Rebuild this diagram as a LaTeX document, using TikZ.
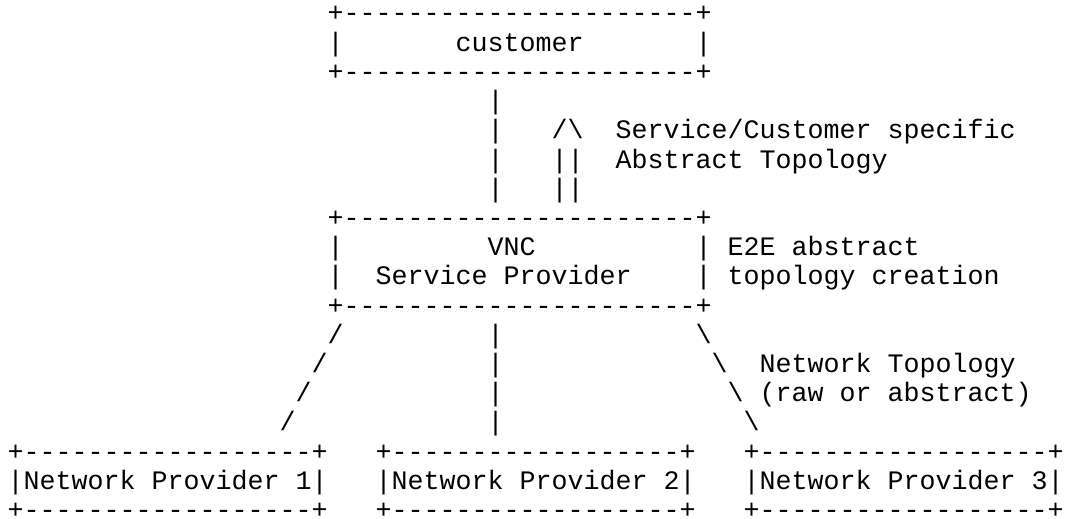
\documentclass[tikz,border=0pt]{standalone}
\usepackage{fontspec}
\setmonofont{Liberation Mono}
% one character cell is 16pt wide, one text row is 29.2pt high
\tikzset{
  asc/.style={anchor=base west, inner sep=0pt, outer sep=0pt,
    font=\ttfamily\fontsize{26.66}{30}\selectfont, text=black}
}
% place a text fragment at a given row and column of the character grid
\newcommand\asc[4]{\node[asc] (#1) at ({7.7+16*#3},{22+29.2*#2}) {#4};}
\begin{document}
\begin{tikzpicture}[x=1pt,y=-1pt]
  \fill[white] (0,0) rectangle (1066,519);
  \useasboundingbox (0,0) rectangle (1066,519);

  % customer box
  \asc{custTop}{0}{20}{+----------------------+}
  \asc{custL}{1}{20}{|}
  \asc{cust}{1}{28}{customer}
  \asc{custR}{1}{43}{|}
  \asc{custBot}{2}{20}{+----------------------+}

  % link between customer and VNC, with the upward arrow
  \asc{linkA}{3}{30}{|}
  \asc{linkB}{4}{30}{|}
  \asc{arrowHead}{4}{34}{/\textbackslash}
  \asc{svcLabel}{4}{38}{Service/Customer specific}
  \asc{linkC}{5}{30}{|}
  \asc{arrowA}{5}{34}{||}
  \asc{absLabel}{5}{38}{Abstract Topology}
  \asc{linkD}{6}{30}{|}
  \asc{arrowB}{6}{34}{||}

  % VNC service provider box
  \asc{vncTop}{7}{20}{+----------------------+}
  \asc{vncL1}{8}{20}{|}
  \asc{vnc}{8}{30}{VNC}
  \asc{vncR1}{8}{43}{|}
  \asc{e2eA}{8}{45}{E2E abstract}
  \asc{vncL2}{9}{20}{|}
  \asc{sp}{9}{23}{Service Provider}
  \asc{vncR2}{9}{43}{|}
  \asc{e2eB}{9}{45}{topology creation}
  \asc{vncBot}{10}{20}{+----------------------+}

  % fan-out to the network providers
  \asc{lftA}{11}{20}{/}
  \asc{midA}{11}{30}{|}
  \asc{rgtA}{11}{43}{\textbackslash}
  \asc{lftB}{12}{19}{/}
  \asc{midB}{12}{30}{|}
  \asc{rgtB}{12}{44}{\textbackslash}
  \asc{ntA}{12}{47}{Network Topology}
  \asc{lftC}{13}{18}{/}
  \asc{midC}{13}{30}{|}
  \asc{rgtC}{13}{45}{\textbackslash}
  \asc{ntB}{13}{47}{(raw or abstract)}
  \asc{lftD}{14}{17}{/}
  \asc{midD}{14}{30}{|}
  \asc{rgtD}{14}{46}{\textbackslash}

  % network provider boxes
  \asc{npTopA}{15}{0}{+------------------+}
  \asc{npTopB}{15}{23}{+------------------+}
  \asc{npTopC}{15}{46}{+------------------+}
  \asc{npA}{16}{0}{|Network Provider 1|}
  \asc{npB}{16}{23}{|Network Provider 2|}
  \asc{npC}{16}{46}{|Network Provider 3|}
  \asc{npBotA}{17}{0}{+------------------+}
  \asc{npBotB}{17}{23}{+------------------+}
  \asc{npBotC}{17}{46}{+------------------+}
\end{tikzpicture}
\end{document}
